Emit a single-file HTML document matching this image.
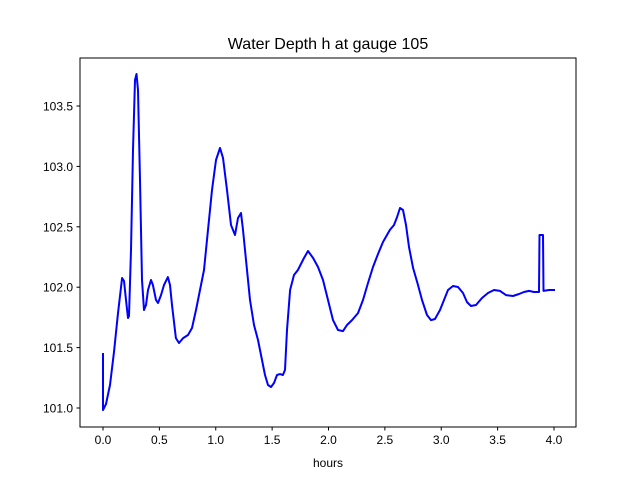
<!DOCTYPE html>
<html><head><meta charset="utf-8"><style>
body{margin:0;background:#fff}
svg{display:block;font-family:"Liberation Sans","DejaVu Sans",sans-serif}
</style></head><body>
<svg id="chart" width="640" height="480">
<rect width="640" height="480" fill="#fff"/>
<text x="328" y="49" font-size="16" text-anchor="middle">Water Depth h at gauge 105</text>
<g id="plot"></g>
<rect x="80" y="58" width="496" height="369" fill="none" stroke="#000" stroke-width="1"/>
<text x="328" y="467" font-size="12" text-anchor="middle">hours</text>
</svg>
<script>
const times=[0,0,0.027,0.062,0.098,0.133,0.169,0.186,0.204,0.222,0.231,0.248,0.266,0.284,0.297,0.310,0.328,0.346,0.364,0.381,0.399,0.426,0.443,0.470,0.488,0.514,0.541,0.576,0.594,0.612,0.647,0.674,0.710,0.754,0.789,0.825,0.860,0.896,0.931,0.967,1.002,1.038,1.064,1.100,1.135,1.171,1.197,1.224,1.242,1.268,1.304,1.339,1.375,1.410,1.437,1.463,1.490,1.517,1.543,1.570,1.596,1.614,1.632,1.659,1.694,1.729,1.783,1.818,1.863,1.907,1.951,1.996,2.040,2.084,2.129,2.164,2.208,2.262,2.306,2.350,2.395,2.439,2.483,2.545,2.581,2.608,2.634,2.661,2.687,2.714,2.750,2.794,2.829,2.874,2.909,2.945,2.989,3.024,3.060,3.104,3.149,3.193,3.228,3.264,3.308,3.361,3.415,3.468,3.521,3.574,3.636,3.690,3.734,3.778,3.823,3.867,3.871,3.902,3.907,3.956,4.000];
const depths=[101.447,100.983,101.033,101.190,101.464,101.786,102.076,102.051,101.894,101.745,101.762,102.308,103.136,103.715,103.765,103.632,102.887,102.060,101.811,101.853,101.977,102.060,102.018,101.894,101.869,101.935,102.018,102.084,102.018,101.853,101.579,101.538,101.579,101.604,101.662,101.811,101.977,102.142,102.474,102.805,103.053,103.152,103.070,102.805,102.515,102.432,102.573,102.614,102.474,102.225,101.894,101.687,101.563,101.397,101.273,101.190,101.174,101.207,101.273,101.281,101.273,101.315,101.646,101.977,102.101,102.142,102.242,102.300,102.242,102.167,102.060,101.894,101.728,101.646,101.637,101.687,101.728,101.786,101.894,102.035,102.167,102.275,102.374,102.474,102.515,102.581,102.656,102.639,102.515,102.333,102.159,102.018,101.894,101.770,101.728,101.737,101.811,101.894,101.977,102.010,102.002,101.952,101.877,101.844,101.853,101.911,101.952,101.977,101.969,101.935,101.927,101.944,101.960,101.969,101.960,101.960,102.432,102.432,101.969,101.977,101.977];
const xTicks=[0,0.5,1,1.5,2,2.5,3,3.5,4];
const xTickLabels=["0.0","0.5","1.0","1.5","2.0","2.5","3.0","3.5","4.0"];
const yTicks=[101,101.5,102,102.5,103,103.5];
const yTickLabels=["101.0","101.5","102.0","102.5","103.0","103.5"];
const NS="http://www.w3.org/2000/svg";
const xs=t=>103+t*112.75;
const ys=v=>408-(v-101)*120.8;
const g=document.getElementById('plot');
function mk(tag,attrs){const e=document.createElementNS(NS,tag);for(const k in attrs)e.setAttribute(k,attrs[k]);return e;}
xTicks.forEach((t,i)=>{
  const l=mk('line',{x1:xs(t),x2:xs(t),y1:427,y2:430.5,stroke:'#000'});
  
  
  g.appendChild(l);
  const tx=mk('text',{x:xs(t),y:444,'font-size':12,'text-anchor':'middle'});
  tx.textContent=xTickLabels[i];
  
  
  g.appendChild(tx);
});
yTicks.forEach((v,i)=>{
  const l=mk('line',{x1:76.5,x2:80,y1:ys(v),y2:ys(v),stroke:'#000'});
  
  
  g.appendChild(l);
  const tx=mk('text',{x:73,y:ys(v)+4.5,'font-size':12,'text-anchor':'end'});
  tx.textContent=yTickLabels[i];
  
  
  g.appendChild(tx);
});
const pts=times.map((t,i)=>xs(t).toFixed(1)+','+ys(depths[i]).toFixed(1)).join(' ');
const line=mk('polyline',{points:pts,fill:'none',stroke:'#0000ff','stroke-width':2,'stroke-linejoin':'round','stroke-linecap':'square'});


g.appendChild(line);
</script>
</body></html>
